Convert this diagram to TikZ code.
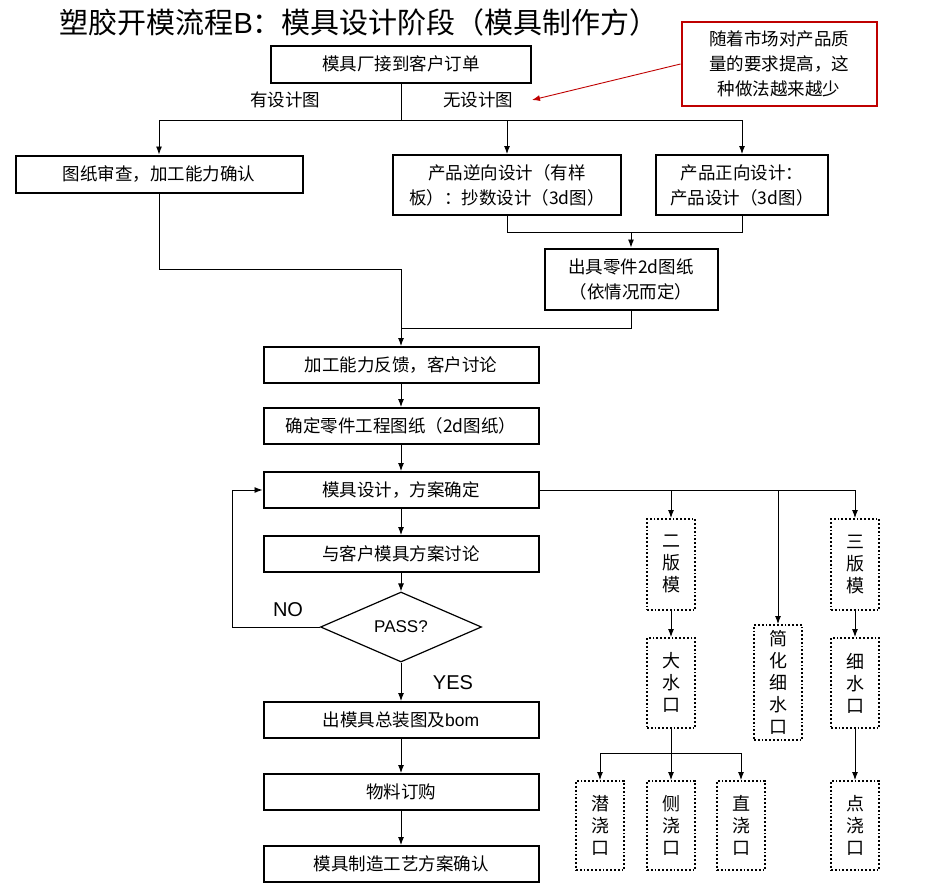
\documentclass[tikz,border=0pt]{standalone}
\usepackage{fontspec}
\setmainfont{Noto Sans CJK SC}
\newfontfamily\latinsf{Liberation Sans}
\usetikzlibrary{positioning,shapes.geometric,arrows.meta}
\tikzset{
>={Latex[length=8pt,width=6pt]},
box/.style={draw, line width=2pt, inner sep=0pt, align=center,
  font=\fontsize{17.5}{25}\selectfont},
dotbox/.style={draw, dotted, line width=1.8pt, inner sep=0pt, align=center,
  minimum width=48pt, font=\fontsize{18}{22}\selectfont, anchor=north},
line/.style={line width=0.9pt},
}
\begin{document}
\begin{tikzpicture}
    [x=1pt, y=-1pt,
    mainbox/.style={box, minimum width=275pt, minimum height=36pt}
    ]
    \useasboundingbox (0,0) rectangle (938,886);

    \node [anchor=west, font=\fontsize{29}{30}\selectfont] (title) at (56,22)
    {塑胶开模流程{\latinsf B}：模具设计阶段（模具制作方）};

    \node [box, minimum width=260pt, minimum height=37pt] (order) at (401,64) {模具厂接到客户订单};
    \node [box, draw=red!75!black, text width=195pt, minimum height=84pt,
      font=\fontsize{17.5}{25}\selectfont] (note) at (779,64)
    {随着市场对产品质\\量的要求提高，这\\种做法越来越少};
    \node [font=\fontsize{17.5}{20}\selectfont] (yes design) at (285,100) {有设计图};
    \node [font=\fontsize{17.5}{20}\selectfont] (no design) at (478,100) {无设计图};

    \node [box, minimum width=287pt, minimum height=37pt] (check) at (159,174) {图纸审查，加工能力确认};
    \node [box, minimum width=228pt, minimum height=60pt] (reverse) at (507,185)
    {产品逆向设计（有样\\板）：抄数设计（3d图）};
    \node [box, minimum width=172pt, minimum height=60pt] (forward) at (742,185)
    {产品正向设计：\\产品设计（3d图）};
    \node [box, minimum width=173pt, minimum height=61pt] (parts) at (631,279)
    {出具零件2d图纸\\（依情况而定）};

    \node [mainbox] (feedback) at (401,365) {加工能力反馈，客户讨论};
    \node [mainbox, below=23pt of feedback] (drawing) {确定零件工程图纸（2d图纸）};
    \node [mainbox, below=26pt of drawing] (mold) {模具设计，方案确定};
    \node [mainbox, below=26pt of mold] (discuss) {与客户模具方案讨论};
    \node [diamond, draw, line width=1.2pt, minimum width=161pt, minimum height=70pt,
      aspect=2.3, inner sep=0pt, font=\latinsf\fontsize{17}{20}\selectfont] (pass) at (401,627) {PASS?};
    \node [mainbox] (assembly) at (401,720) {出模具总装图及{\latinsf bom}};
    \node [mainbox, below=34pt of assembly] (purchase) {物料订购};
    \node [mainbox, below=34pt of purchase] (process) {模具制造工艺方案确认};
    \node [font=\latinsf\fontsize{20}{20}\selectfont] (no) at (288,610) {NO};
    \node [font=\latinsf\fontsize{20}{20}\selectfont] (yes) at (453,683) {YES};

    % mould types
    \node [dotbox, minimum height=91pt] (two plate) at (671,518) {二\\版\\模};
    \node [dotbox, minimum height=91pt] (three plate) at (855,518) {三\\版\\模};
    \node [dotbox, minimum height=115pt] (simple) at (778,624) {简\\化\\细\\水\\口};
    \node [dotbox, minimum height=90pt] (big gate) at (671,637) {大\\水\\口};
    \node [dotbox, minimum height=90pt] (pin gate) at (855,637) {细\\水\\口};
    \node [dotbox, minimum height=89pt] (sub gate) at (600,780) {潜\\浇\\口};
    \node [dotbox, minimum height=89pt] (side gate) at (671,780) {侧\\浇\\口};
    \node [dotbox, minimum height=89pt] (direct gate) at (741,780) {直\\浇\\口};
    \node [dotbox, minimum height=89pt] (point gate) at (855,780) {点\\浇\\口};

    \coordinate (split) at (401,120);
    \coordinate (join) at (401,328);
    \coordinate (merge) at (631,232);
    \coordinate (fork) at (671,753);

    \draw[line] (order) -- (split);
    \draw[line, ->] (split) -| (check);
    \draw[line, ->] (split) -| (reverse);
    \draw[line, ->] (split) -| (forward);
    \draw[line] (reverse.south) |- (merge);
    \draw[line] (forward.south) |- (merge);
    \draw[line, ->] (merge) -- (parts);
    \draw[line] (check.south) |- (401,269) -- (join);
    \draw[line] (parts.south) |- (join);
    \draw[line, ->] (join) -- (feedback);
    \draw[line, ->] (feedback) -- (drawing);
    \draw[line, ->] (drawing) -- (mold);
    \draw[line, ->] (mold) -- (discuss);
    \draw[line, ->] (discuss) -- (pass);
    \draw[line, ->] (pass.west) -- (232,627) |- (mold.west);
    \draw[line, ->] (pass) -- (assembly);
    \draw[line, ->] (assembly) -- (purchase);
    \draw[line, ->] (purchase) -- (process);
    \draw[line, ->, red!75!black] (note.west) -- (532,100);

    \draw[line, ->] (mold.east) -| (two plate);
    \draw[line, ->] (mold.east) -| (simple);
    \draw[line, ->] (mold.east) -| (three plate);
    \draw[line, ->] (two plate) -- (big gate);
    \draw[line, ->] (three plate) -- (pin gate);
    \draw[line, ->] (pin gate) -- (point gate);
    \draw[line] (big gate) -- (fork);
    \draw[line, ->] (fork) -| (sub gate);
    \draw[line, ->] (fork) -- (side gate);
    \draw[line, ->] (fork) -| (direct gate);
\end{tikzpicture}
\end{document}
